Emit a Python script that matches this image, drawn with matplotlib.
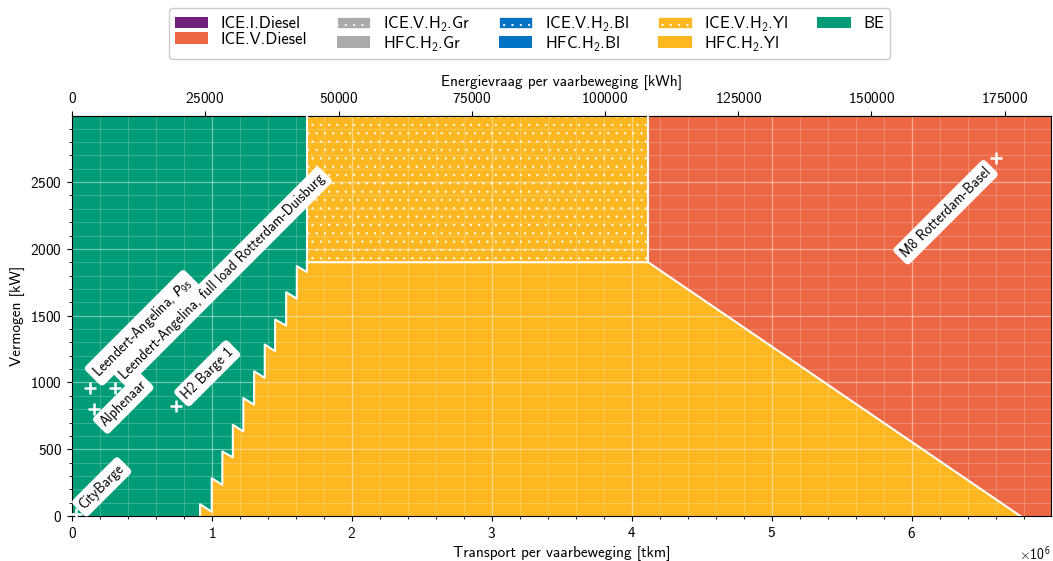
import matplotlib.pyplot as plt
from matplotlib.patches import Patch
from matplotlib.ticker import MultipleLocator

plt.rcParams['font.family'] = ['cmss10', 'DejaVu Sans']
plt.rcParams['mathtext.fontset'] = 'custom'
plt.rcParams['mathtext.rm'] = 'cmss10'
plt.rcParams['mathtext.sf'] = 'cmss10'
plt.rcParams['mathtext.it'] = 'DejaVu Sans:italic'
plt.rcParams['mathtext.bf'] = 'cmss10'
plt.rcParams['axes.formatter.use_mathtext'] = True
plt.rcParams['axes.unicode_minus'] = False
plt.rcParams['hatch.linewidth'] = 0.4

# grens BE / HFC.H2.Yl (trapjes), x in 1e6 tkm, y in kW
trap_x = [0.915, 0.915, 0.998, 0.998, 1.074, 1.074, 1.149, 1.149, 1.224, 1.224,
          1.301, 1.301, 1.377, 1.377, 1.451, 1.451, 1.530, 1.530, 1.606, 1.606,
          1.678, 1.678]
trap_y = [0, 88, 32, 283, 233, 483, 440, 683, 633, 883,
          833, 1084, 1034, 1284, 1234, 1471, 1426, 1676, 1627, 1871,
          1827, 1900]

x_be_max = 1.678e6      # rechterkant BE bovenin
x_h2_max = 4.117e6      # rechterkant ICE.V.H2.Yl
y_h2_min = 1900         # onderkant ICE.V.H2.Yl
x_diesel_0 = 6.776e6    # diesel-grens bij 0 kW
x_max = 6.995e6
y_max = 2995
kwh_per_tkm = 0.02626

# schepen
ship_names = ["CityBarge", "Leendert-Angelina, $P_{95}$",
              "Leendert-Angelina, full load Rotterdam-Duisburg",
              "Alphenaar", "H2 Barge 1", "M8 Rotterdam-Basel"]
ship_x = [0.028e6, 0.129e6, 0.307e6, 0.160e6, 0.743e6, 6.605e6]
ship_y = [15, 959, 959, 801, 826, 2678]

legend_labels = ["ICE.I.Diesel", "ICE.V.Diesel",
                 "ICE.V.H$_2$.Gr", "HFC.H$_2$.Gr",
                 "ICE.V.H$_2$.Bl", "HFC.H$_2$.Bl",
                 "ICE.V.H$_2$.Yl", "HFC.H$_2$.Yl",
                 "BE"]
legend_colors = ["#701f7a", "#ec6845", "#aaaaaa", "#aaaaaa", "#0072c3",
                 "#0072c3", "#fdb721", "#fdb721", "#009b77"]
legend_hatch = [None, None, "..", None, "..", None, "..", None, None]

c_diesel = "#ec6845"
c_yl = "#fdb721"
c_be = "#009b77"

fig = plt.figure(figsize=(10.53, 5.61), dpi=100)
ax = fig.add_axes([0.0684, 0.0802, 0.9297, 0.7130])
ax.set_xlim(0, x_max)
ax.set_ylim(0, y_max)

tx = [v * 1e6 for v in trap_x]

# achtergrond = HFC.H2.Yl
ax.fill([0, x_max, x_max, 0], [0, 0, y_max, y_max], color=c_yl, lw=0)
# BE
ax.fill([0] + tx + [x_be_max, 0], [0] + trap_y + [y_max, y_max], color=c_be, lw=0)
# ICE.V.H2.Yl
ax.fill([x_be_max, x_h2_max, x_h2_max, x_be_max], [y_h2_min, y_h2_min, y_max, y_max],
        facecolor=c_yl, edgecolor="white", hatch="..", lw=0)
# ICE.V.Diesel
ax.fill([x_h2_max, x_h2_max, x_diesel_0, x_max, x_max], [y_max, y_h2_min, 0, 0, y_max],
        color=c_diesel, lw=0)

# witte grenslijnen
ax.plot(tx, trap_y, color="white", lw=1.5, zorder=3)
ax.plot([x_be_max, x_be_max], [y_h2_min, y_max], color="white", lw=1.5, zorder=3)
ax.plot([x_be_max, x_h2_max, x_diesel_0], [y_h2_min, y_h2_min, 0], color="white", lw=1.5, zorder=3)
ax.plot([x_h2_max, x_h2_max], [y_h2_min, y_max], color="white", lw=1.5, zorder=3)

ax.xaxis.set_major_locator(MultipleLocator(1e6))
ax.xaxis.set_minor_locator(MultipleLocator(0.2e6))
ax.yaxis.set_major_locator(MultipleLocator(500))
ax.yaxis.set_minor_locator(MultipleLocator(100))
ax.grid(which="major", color="white", alpha=0.45, lw=0.9)
ax.grid(which="minor", color="white", alpha=0.22, lw=0.7)
ax.tick_params(which="both", direction="out", labelsize=11)

ax.set_xlabel("Transport per vaarbeweging [tkm]", fontsize=11)
ax.set_ylabel("Vermogen [kW]", fontsize=11)

secax = ax.secondary_xaxis("top", functions=(lambda t: t * kwh_per_tkm,
                                             lambda e: e / kwh_per_tkm))
secax.xaxis.set_major_locator(MultipleLocator(25000))
secax.tick_params(labelsize=11)
secax.set_xlabel("Energievraag per vaarbeweging [kWh]", fontsize=11)

# schepen
ax.plot(ship_x, ship_y, "+", color="white", ms=8, mew=1.8, zorder=5)
offsets = [(4, 5), (4, 9.5), (5, 8), (5.8, -11), (5.5, 6.3), (-5.8, -8)]
has = ["left", "left", "left", "left", "left", "right"]
for name, x, y, off, ha in zip(ship_names, ship_x, ship_y, offsets, has):
    ax.annotate(name, (x, y), xytext=off, textcoords="offset points",
                rotation=45, rotation_mode="anchor", ha=ha, va="center", fontsize=10,
                bbox=dict(boxstyle="round,pad=0.3", fc="white", ec="none"), zorder=6)

handles = [Patch(facecolor=c, edgecolor="white" if h else c, hatch=h, lw=0 if not h else 0.5)
           for c, h in zip(legend_colors, legend_hatch)]
fig.legend(handles, legend_labels, loc="upper center", bbox_to_anchor=(0.503, 1.0),
           ncols=5, fontsize=12, handlelength=2.0, handletextpad=0.75,
           columnspacing=1.75, labelspacing=0.05, borderpad=0.35,
           framealpha=1, edgecolor="#cccccc")

fig.savefig("out.png", dpi=100)
